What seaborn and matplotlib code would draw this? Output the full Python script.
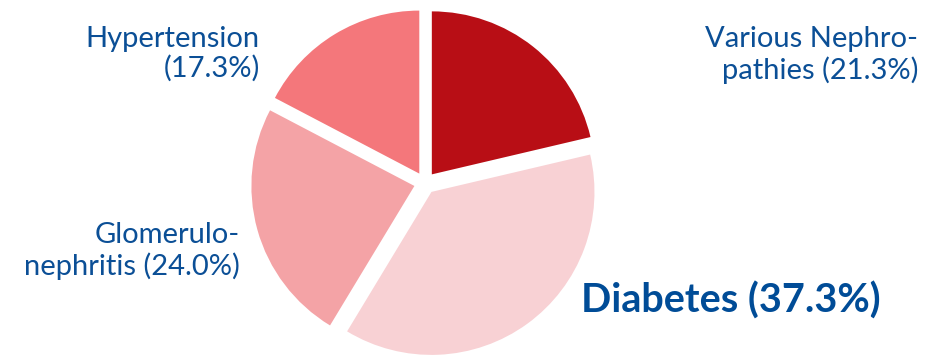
import matplotlib.pyplot as plt
import seaborn as sns

# causes of kidney failure (percent)
causes = ["Various Nephropathies", "Diabetes", "Glomerulonephritis", "Hypertension"]
shares = [21.3, 37.3, 24.0, 17.3]
label_texts = [
    "Various Nephro-\npathies (21.3%)",
    "Diabetes (37.3%)",
    "Glomerulo-\nnephritis (24.0%)",
    "Hypertension\n(17.3%)",
]
slice_colors = ["#B80E15", "#F8D1D4", "#F4A3A6", "#F4777B"]

sns.set_theme(style="white")
plt.rcParams["font.family"] = ["Lato", "DejaVu Sans"]

fig = plt.figure(figsize=(9.26, 3.55), dpi=100)
ax = fig.add_axes([0, 0, 1, 1])

# explode is an absolute offset in data units (pixels here)
ax.pie(
    shares,
    colors=slice_colors,
    startangle=90,
    counterclock=False,
    center=(425, 172),
    radius=163,
    explode=[11] * len(shares),
    wedgeprops={"linewidth": 0},
    frame=False,
)
ax.set_xlim(0, 926)
ax.set_ylim(0, 355)
ax.set_aspect("auto")
ax.axis("off")

blue = "#0B4F96"
ax.text(918, 300, label_texts[0], ha="right", va="center", fontsize=21,
        color=blue, linespacing=1.15)
ax.text(581, 54, label_texts[1], ha="left", va="center", fontsize=28.5,
        color="#004C97", fontweight="bold")
ax.text(240, 104, label_texts[2], ha="right", va="center", fontsize=21,
        color=blue, linespacing=1.15)
ax.text(260, 301, label_texts[3], ha="right", va="center", fontsize=21,
        color=blue, linespacing=1.15)

fig.savefig("out.png", dpi=100)
